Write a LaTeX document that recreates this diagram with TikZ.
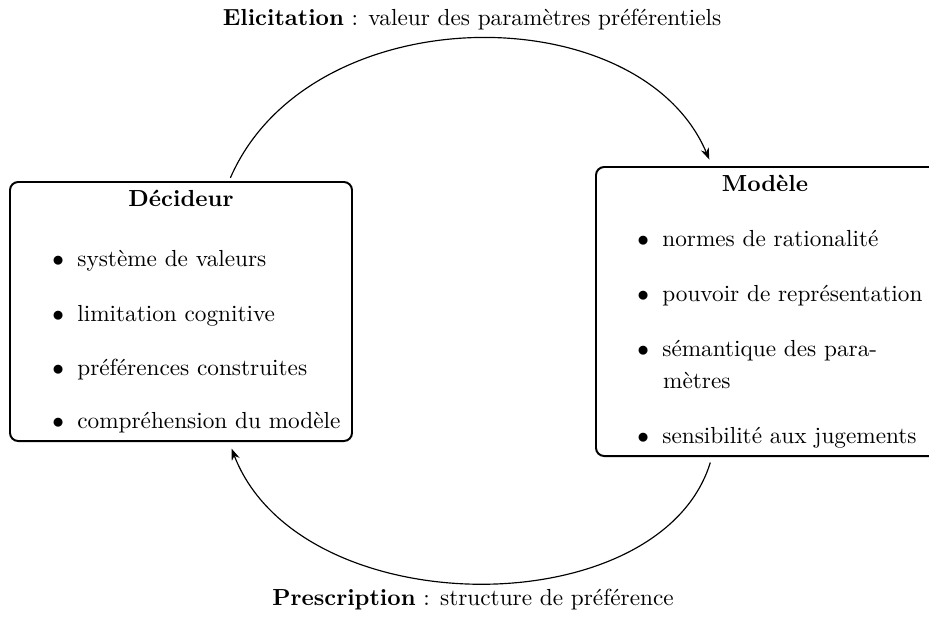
\documentclass[tikz,border=0pt]{standalone}
\usetikzlibrary{arrows.meta,calc}
\newcommand\itm[1]{$\bullet$\hspace{5.7pt}#1}
\begin{document}
\begin{tikzpicture}[x=0.43pt,y=-0.43pt,
  box/.style={draw, line width=0.85pt, rounded corners=3.5pt, inner sep=0pt},
  item/.style={anchor=base west, inner sep=0pt},
  ttl/.style={anchor=base, inner sep=0pt, font=\bfseries},
  lbl/.style={anchor=base, inner sep=0pt},
  arc/.style={line width=0.5pt, -{Stealth[length=5pt,width=3.6pt]}}]
\useasboundingbox (0,0) rectangle (929,616);
\clip (0,0) rectangle (929,616);
% boxes
\node[box, minimum width=147.06pt, minimum height=111.37pt] (dec) at (181,311.5) {};
\node[box, minimum width=147.06pt, minimum height=124.27pt] (mod) at (767,311.5) {};
% left content
\node[ttl] (dect) at (181,206) {Décideur};
\node[item] (d1) at (52,266.7) {\itm{système de valeurs}};
\node[item] (d2) at (52,321.7) {\itm{limitation cognitive}};
\node[item] (d3) at (52,375) {\itm{préférences construites}};
\node[item] (d4) at (52,428) {\itm{compréhension du modèle}};
% right content
\node[ttl] (modt) at (765,191.7) {Modèle};
\node[item] (m1) at (637,246) {\itm{normes de rationalité}};
\node[item] (m2) at (637,301.7) {\itm{pouvoir de représentation}};
\node[item] (m3) at (637,356.7) {\itm{sémantique des para-}};
\node[item] (m3b) at (662.7,388) {mètres};
\node[item] (m4) at (637,443) {\itm{sensibilité aux jugements}};
% labels
\node[lbl] (top) at (472,25) {\textbf{Elicitation} : valeur des paramètres préférentiels};
\node[lbl] (bot) at (473,605) {\textbf{Prescription} : structure de préférence};
% arcs
\coordinate (a1) at ($(dec.north west)+(220,0)$);
\coordinate (a2) at ($(mod.north west)+(117,0)$);
\coordinate (b1) at ($(mod.south west)+(117,0)$);
\coordinate (b2) at ($(dec.south west)+(220,0)$);
\draw[arc, shorten <=1.5pt, shorten >=3pt] (a1) .. controls (310,-5) and (640,-5) .. (a2);
\draw[arc, shorten <=2.5pt, shorten >=3pt] (b1) .. controls (660,626) and (300,626) .. (b2);
\end{tikzpicture}
\end{document}
